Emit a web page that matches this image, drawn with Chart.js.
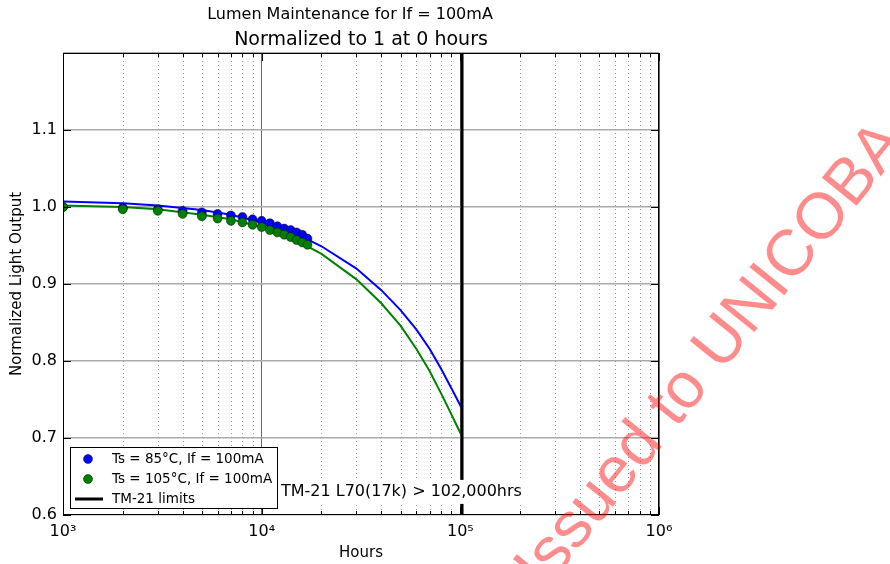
<!DOCTYPE html>
<html>
<head>
<meta charset="utf-8">
<script src="https://cdn.jsdelivr.net/npm/chart.js@4.4.0/dist/chart.umd.min.js"></script>
<style>
html, body { margin: 0; padding: 0; background: #fff; }
canvas { display: block; }
</style>
</head>
<body>
<canvas id="myChart" width="890" height="564"></canvas>
<script>
// measured points (hours) and normalized light output per condition
var hoursMeasured = [1000, 2000, 3000, 4000, 5000, 6000, 7000, 8000, 9000, 10000, 11000, 12000, 13000, 14000, 15000, 16000, 17000];
var blue85 = [1.000, 0.999, 0.997, 0.995, 0.993, 0.991, 0.989, 0.987, 0.984, 0.982, 0.979, 0.975, 0.972, 0.970, 0.967, 0.964, 0.959];
var green105 = [1.000, 0.997, 0.995, 0.991, 0.988, 0.985, 0.982, 0.980, 0.977, 0.974, 0.970, 0.967, 0.964, 0.961, 0.957, 0.954, 0.951];

// TM-21 projection curves
var fitHours = [1000, 2000, 3000, 5000, 7000, 10000, 14000, 17000, 20000, 30000, 40000, 50000, 60000, 70000, 80000, 90000, 102000];
var blueFit = [1.007, 1.005, 1.002, 0.996, 0.990, 0.980, 0.967, 0.958, 0.949, 0.920, 0.892, 0.866, 0.841, 0.816, 0.790, 0.765, 0.738];
var greenFit = [1.002, 1.000, 0.997, 0.990, 0.984, 0.974, 0.960, 0.949, 0.939, 0.906, 0.875, 0.846, 0.816, 0.787, 0.758, 0.731, 0.702];

// TM-21 limit line
var limitHours = [102000, 102000];
var limitLevels = [0.6, 1.2];

// axes
var decadeTicks = [1000, 10000, 100000, 1000000];
var decadeLabels = ['10³', '10⁴', '10⁵', '10⁶'];
var yTicks = [0.6, 0.7, 0.8, 0.9, 1.0, 1.1, 1.2];

var seriesLabels = ['Ts = 85°C, If = 100mA', 'Ts = 105°C, If = 100mA', 'TM-21 limits'];
var FONT = '"DejaVu Sans", sans-serif';

function pts(xs, ys) {
    return xs.map(function(x, i) { return { x: x, y: ys[i] }; });
}

// minor tick positions 2..9 x 10^n
var minorTicks = [];
decadeTicks.slice(0, 3).forEach(function(d) {
    for (var k = 2; k <= 9; k++) minorTicks.push(d * k);
});

var decorPlugin = {
    id: 'decor',
    beforeDatasetsDraw: function(chart) {
        var ctx = chart.ctx, a = chart.chartArea, xs = chart.scales.x;
        ctx.save();
        ctx.strokeStyle = '#999';
        ctx.lineWidth = 1;
        ctx.setLineDash([1, 3]);
        minorTicks.forEach(function(v) {
            var px = Math.round(xs.getPixelForValue(v)) + 0.5;
            ctx.beginPath();
            ctx.moveTo(px, a.top);
            ctx.lineTo(px, a.bottom);
            ctx.stroke();
        });
        ctx.restore();
    },
    afterDraw: function(chart) {
        var ctx = chart.ctx, a = chart.chartArea, xs = chart.scales.x, ys = chart.scales.y;
        ctx.save();

        // frame + inward ticks
        ctx.strokeStyle = '#000';
        ctx.lineWidth = 1;
        ctx.strokeRect(a.left + 0.5, a.top + 0.5, a.right - a.left - 1, a.bottom - a.top - 1);
        ctx.beginPath();
        decadeTicks.forEach(function(v) {
            var px = Math.round(xs.getPixelForValue(v)) + 0.5;
            ctx.moveTo(px, a.bottom); ctx.lineTo(px, a.bottom - 8);
            ctx.moveTo(px, a.top); ctx.lineTo(px, a.top + 8);
        });
        minorTicks.forEach(function(v) {
            var px = Math.round(xs.getPixelForValue(v)) + 0.5;
            ctx.moveTo(px, a.bottom); ctx.lineTo(px, a.bottom - 4);
            ctx.moveTo(px, a.top); ctx.lineTo(px, a.top + 4);
        });
        yTicks.forEach(function(v) {
            var py = Math.round(ys.getPixelForValue(v)) + 0.5;
            ctx.moveTo(a.left, py); ctx.lineTo(a.left + 8, py);
            ctx.moveTo(a.right, py); ctx.lineTo(a.right - 8, py);
        });
        ctx.stroke();

        // annotation with white box
        var note = 'TM-21 L70(17k) > 102,000hrs';
        ctx.font = '16px ' + FONT;
        var nx = xs.getPixelForValue(12500), ny = ys.getPixelForValue(0.63);
        var nw = ctx.measureText(note).width;
        ctx.fillStyle = '#fff';
        ctx.fillRect(nx - 3, ny - 12, nw + 6, 24);
        ctx.fillStyle = '#000';
        ctx.textAlign = 'left';
        ctx.textBaseline = 'middle';
        ctx.fillText(note, nx, ny);

        // legend
        var lx = a.left + 7, ly = a.bottom - 68, lw = 207, lh = 61;
        ctx.fillStyle = '#fff';
        ctx.fillRect(lx, ly, lw, lh);
        ctx.strokeStyle = '#000';
        ctx.strokeRect(lx + 0.5, ly + 0.5, lw, lh);
        ctx.font = '13.5px ' + FONT;
        var legendColors = ['#0000ff', '#008000'];
        for (var i = 0; i < 3; i++) {
            var ry = ly + 12 + i * 20;
            if (i < 2) {
                ctx.beginPath();
                ctx.arc(lx + 18, ry, 4.5, 0, Math.PI * 2);
                ctx.fillStyle = legendColors[i];
                ctx.fill();
                ctx.strokeStyle = 'rgba(0,0,0,0.6)';
                ctx.lineWidth = 0.8;
                ctx.stroke();
            } else {
                ctx.beginPath();
                ctx.moveTo(lx + 5, ry);
                ctx.lineTo(lx + 33, ry);
                ctx.strokeStyle = '#000';
                ctx.lineWidth = 3;
                ctx.stroke();
            }
            ctx.fillStyle = '#000';
            ctx.fillText(seriesLabels[i], lx + 42, ry);
        }

        // titles
        var cx = (a.left + a.right) / 2;
        ctx.textAlign = 'center';
        ctx.fillStyle = '#000';
        ctx.font = '16px ' + FONT;
        ctx.fillText('Lumen Maintenance for If = 100mA', cx - 11, 15);
        ctx.font = '19px ' + FONT;
        ctx.fillText('Normalized to 1 at 0 hours', cx, 40);
        ctx.font = '15px ' + FONT;
        ctx.fillText('Hours', cx, 553);
        ctx.save();
        ctx.translate(17, (a.top + a.bottom) / 2);
        ctx.rotate(-Math.PI / 2);
        ctx.fillText('Normalized Light Output', 0, 0);
        ctx.restore();

        // watermark
        ctx.save();
        ctx.translate(712, 356);
        ctx.rotate(-51 * Math.PI / 180);
        ctx.font = '65px "Liberation Sans", Arial, sans-serif';
        ctx.fillStyle = 'rgba(255,0,0,0.45)';
        ctx.textAlign = 'center';
        ctx.fillText('Issued to UNICOBA', 0, 0);
        ctx.restore();

        ctx.restore();
    }
};

var ctx = document.getElementById('myChart').getContext('2d');
var myChart = new Chart(ctx, {
    type: 'scatter',
    data: {
        datasets: [
            {
                label: seriesLabels[2],
                data: pts(limitHours, limitLevels),
                showLine: true,
                borderColor: '#000',
                borderWidth: 3,
                pointRadius: 0,
                order: 0
            },
            {
                label: seriesLabels[1],
                data: pts(hoursMeasured, green105),
                backgroundColor: '#008000',
                borderColor: 'rgba(0,0,0,0.6)',
                borderWidth: 0.8,
                pointRadius: 4.5,
                order: 1
            },
            {
                label: seriesLabels[0],
                data: pts(hoursMeasured, blue85),
                backgroundColor: '#0000ff',
                borderColor: 'rgba(0,0,0,0.6)',
                borderWidth: 0.8,
                pointRadius: 4.5,
                order: 2
            },
            {
                label: 'green fit',
                data: pts(fitHours, greenFit),
                showLine: true,
                borderColor: '#008000',
                borderWidth: 2,
                pointRadius: 0,
                order: 3
            },
            {
                label: 'blue fit',
                data: pts(fitHours, blueFit),
                showLine: true,
                borderColor: '#0000ff',
                borderWidth: 2,
                pointRadius: 0,
                order: 4
            }
        ]
    },
    options: {
        responsive: false,
        animation: false,
        layout: { padding: { top: 53, right: 231, left: 0, bottom: 0 } },
        plugins: {
            legend: { display: false },
            tooltip: { enabled: false },
            title: { display: false }
        },
        scales: {
            x: {
                type: 'logarithmic',
                min: 1000,
                max: 1000000,
                afterBuildTicks: function(scale) {
                    scale.ticks = decadeTicks.map(function(v) { return { value: v, major: true }; });
                },
                afterFit: function(scale) { scale.height = 49; },
                ticks: {
                    autoSkip: false,
                    maxRotation: 0,
                    padding: 7,
                    color: '#000',
                    font: { family: FONT, size: 16 },
                    callback: function(value) {
                        var i = decadeTicks.indexOf(value);
                        return i >= 0 ? decadeLabels[i] : '';
                    }
                },
                grid: { color: '#666', lineWidth: 1, drawTicks: false },
                border: { display: false }
            },
            y: {
                min: 0.6,
                max: 1.2,
                afterBuildTicks: function(scale) {
                    scale.ticks = yTicks.map(function(v) { return { value: v }; });
                },
                afterFit: function(scale) { scale.width = 63; },
                ticks: {
                    padding: 6,
                    color: '#000',
                    font: { family: FONT, size: 16 },
                    callback: function(value) {
                        return value > 1.15 ? '' : value.toFixed(1);
                    }
                },
                grid: { color: '#aaa', lineWidth: 1.5, drawTicks: false },
                border: { display: false }
            }
        }
    },
    plugins: [decorPlugin]
});
</script>
</body>
</html>
